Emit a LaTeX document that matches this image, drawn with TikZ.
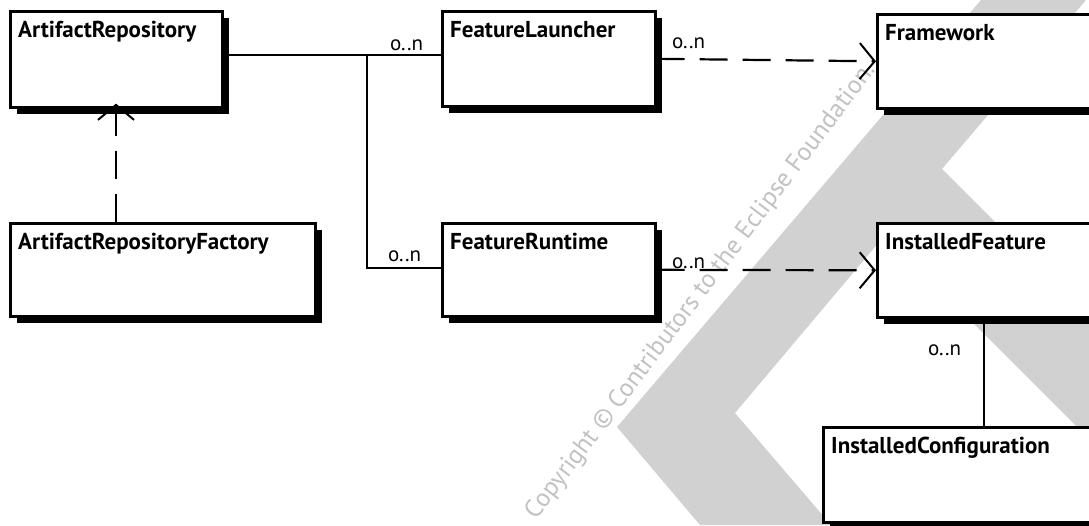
\documentclass[tikz,border=0pt]{standalone}
\usepackage{fontspec}
\setmainfont{PT Sans}
\usetikzlibrary{arrows.meta,shadows}
\begin{document}
\begin{tikzpicture}[x=1pt,y=-1pt,
  cls/.style={draw=black, line width=2.6pt, fill=white, anchor=north west, inner sep=0pt,
     drop shadow={shadow xshift=7pt, shadow yshift=-7pt, fill=black, opacity=1}},
  ttl/.style={anchor=base west, inner sep=0pt, font=\fontsize{23}{26}\selectfont\bfseries},
  mult/.style={anchor=base west, inner sep=0pt, font=\fontsize{21}{24}\selectfont},
  conn/.style={line width=2pt},
  dep/.style={line width=2.2pt, dash pattern=on 28pt off 15pt,
     -{Straight Barb[length=15pt,width=36pt,line width=2pt]}},
  wm/.style={anchor=base west, inner sep=0pt, text=black!24, font=\fontsize{25.5}{28}\selectfont},
  wmshape/.style={fill=black!18, draw=none}
]
\useasboundingbox (0,0) rectangle (1089,525);
\clip (0,0) rectangle (1089,525);
\fill[white] (0,0) rectangle (1089,525);

% watermark shapes
\fill[wmshape] (981,0) -- (1086,0) -- (942,169) -- (1089,316) -- (1089,439)
   -- (885,235) -- (735,413) -- (831,525) -- (700,525) -- (617,427) -- cycle;

% watermark text
\node[wm, rotate=53] (wmtext) at (536,521) {Copyright © Contributors to the Eclipse Foundation.};

% classes
\node[cls, minimum width=212, minimum height=96] (ar)  at (9,10) {};
\node[cls, minimum width=305, minimum height=93] (arf) at (9,222) {};
\node[cls, minimum width=213, minimum height=95] (fl)  at (441,10) {};
\node[cls, minimum width=213, minimum height=93] (fr)  at (441,222) {};
\node[cls, minimum width=240, minimum height=94] (fw)  at (876,13) {};
\node[cls, minimum width=240, minimum height=94] (if)  at (876,222) {};
\node[cls, minimum width=290, minimum height=95] (ic)  at (822,426) {};

\node[ttl] (tar)  at ([shift={(9,27)}]ar.north west)  {ArtifactRepository};
\node[ttl] (tarf) at ([shift={(9,27)}]arf.north west) {ArtifactRepositoryFactory};
\node[ttl] (tfl)  at ([shift={(9,27)}]fl.north west)  {FeatureLauncher};
\node[ttl] (tfr)  at ([shift={(9,27)}]fr.north west)  {FeatureRuntime};
\node[ttl] (tfw)  at ([shift={(9,27)}]fw.north west)  {Framework};
\node[ttl] (tif)  at ([shift={(9,27)}]if.north west)  {InstalledFeature};
\node[ttl] (tic)  at ([shift={(9,27)}]ic.north west)  {InstalledConfiguration};

% associations
\coordinate (j1) at (367,55);
\coordinate (j2) at (367,268);
\coordinate (v1) at (116,0);
\coordinate (v2) at (984,0);
\draw[conn] (j1 -| ar.east) -- (j1 -| fl.west);
\draw[conn] (j1) -- (j2) -- (j2 -| fr.west);
\draw[conn] (v2 |- if.south) -- (v2 |- ic.north);

% dependencies
\draw[dep] (fl.east) -- (fw.west);
\draw[dep] (fr.east) -- (if.west);
\draw[dep, shorten >=-5pt] (v1 |- arf.north) -- (v1 |- ar.south);

% multiplicities
\node[mult] (m1) at (390,50)  {o..n};
\node[mult] (m2) at (388,261) {o..n};
\node[mult] (m3) at (672,48)  {o..n};
\node[mult] (m4) at (672,268) {o..n};
\node[mult] (m5) at (928,355) {o..n};
\end{tikzpicture}
\end{document}
